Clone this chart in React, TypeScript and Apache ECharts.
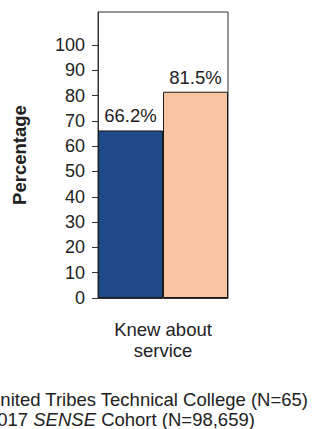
import React, { useEffect, useRef } from "react";
import * as echarts from "echarts";

const categories = ["Knew about\nservice"];
const seriesNames = ["United Tribes Technical College (N=65)", "2017 SENSE Cohort (N=98,659)"];
const seriesColors = ["#1e4a8a", "#f8c4a2"];
const collegeValues = [66.2];
const cohortValues = [81.5];
const tickValues = [0, 10, 20, 30, 40, 50, 60, 70, 80, 90, 100];

const FONT = "'Liberation Sans', Arial, sans-serif";
const FS = 18.5;

export default function App() {
  const ref = useRef<HTMLDivElement>(null);
  useEffect(() => {
    if (!ref.current) return;
    const chart = echarts.init(ref.current, null, { renderer: "svg" });
    const label = {
      show: true,
      position: "top",
      distance: 5,
      fontSize: FS,
      fontFamily: FONT,
      color: "#222",
      formatter: (p: any) => `${p.value.toFixed(1)}%`,
    };
    const legendItems = seriesNames.map((name, i) => ({
      type: "group",
      x: -32,
      y: 390 + i * 20,
      children: [
        {
          type: "rect",
          shape: { x: 0, y: 2, width: 14, height: 14 },
          style: { fill: seriesColors[i], stroke: "#1a1a1a", lineWidth: 1 },
        },
        {
          type: "text",
          x: 19,
          y: 0,
          style: {
            text: name.replace("SENSE", "{i|SENSE}"),
            fontSize: FS,
            fontFamily: FONT,
            fill: "#222",
            rich: {
              i: { fontSize: FS, fontFamily: FONT, fontStyle: "italic", fill: "#222" },
            },
          },
        },
      ],
    }));
    chart.setOption({
      animation: false,
      textStyle: { fontFamily: FONT },
      grid: {
        left: 98,
        right: 87,
        top: 12,
        bottom: 131,
        show: true,
        borderColor: "#333",
        borderWidth: 1,
        containLabel: false,
      },
      graphic: legendItems,
      xAxis: {
        type: "category",
        data: categories,
        axisLine: { show: true, lineStyle: { color: "#333" } },
        axisTick: { show: false },
        axisLabel: {
          fontSize: FS,
          fontFamily: FONT,
          color: "#222",
          lineHeight: 21,
          margin: 21,
        },
      },
      yAxis: {
        type: "value",
        min: 0,
        max: 113,
        interval: 10,
        name: "Percentage",
        nameLocation: "middle",
        nameGap: 69,
        nameTextStyle: { fontSize: FS, fontWeight: "bold", fontFamily: FONT, color: "#222" },
        splitLine: { show: false },
        axisLine: { show: true, lineStyle: { color: "#333" } },
        axisTick: { show: true, length: 6, customValues: tickValues, lineStyle: { color: "#333" } },
        axisLabel: {
          customValues: tickValues,
          fontSize: 18,
          fontFamily: FONT,
          color: "#222",
          margin: 13,
        },
      },
      series: [
        {
          name: seriesNames[0],
          type: "bar",
          data: collegeValues,
          barGap: "0%",
          barCategoryGap: "0%",
          itemStyle: { color: seriesColors[0], borderColor: "#1a1a1a", borderWidth: 1 },
          label,
        },
        {
          name: seriesNames[1],
          type: "bar",
          data: cohortValues,
          barGap: "0%",
          barCategoryGap: "0%",
          itemStyle: { color: seriesColors[1], borderColor: "#1a1a1a", borderWidth: 1 },
          label,
        },
      ],
    });
    return () => chart.dispose();
  }, []);
  return <div ref={ref} style={{ width: 315, height: 429, position: "absolute", left: 0, top: 0 }} />;
}
